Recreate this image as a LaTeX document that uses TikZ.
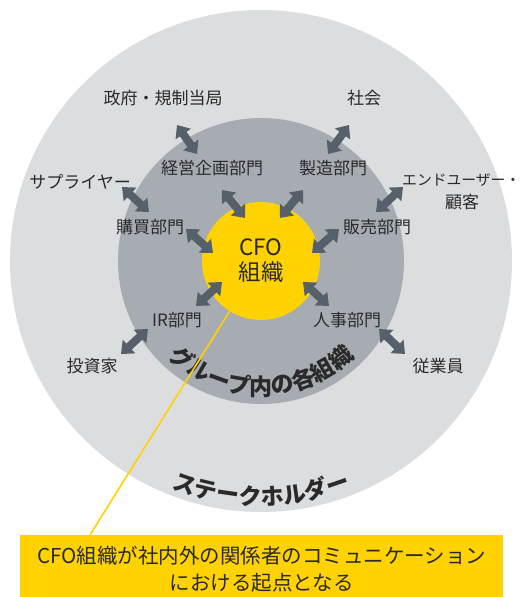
\documentclass[tikz,border=0pt]{standalone}
\usepackage{fontspec}
\setmainfont{Noto Sans CJK JP}
\usetikzlibrary{arrows.meta,decorations.text}
\definecolor{outerg}{HTML}{DCDDDF}
\definecolor{innerg}{HTML}{A7ACB2}
\definecolor{cfoy}{HTML}{FFD200}
\definecolor{arr}{HTML}{56606B}
\definecolor{txt}{HTML}{2A2A2A}
\begin{document}
\begin{tikzpicture}[x=1pt,y=-1pt,
  lbl/.style={text=txt,font=\fontsize{17}{21}\selectfont,inner sep=0pt},
  dbl/.style={draw=arr,line width=8pt,{Triangle[width=18pt,length=11pt]}-{Triangle[width=18pt,length=11pt]}},
  ring/.style={circle,inner sep=0pt,draw=none}
]
\useasboundingbox (0,0) rectangle (521,597);
% circles
\node[ring,fill=outerg,minimum size=502pt] (stake) at (261,261) {};
\node[ring,fill=innerg,minimum size=286pt] (group) at (261,261) {};
\node[ring,fill=cfoy,minimum size=118pt,text=txt,align=center,font=\fontsize{22.5}{25}\selectfont] (cfo) at (261,261) {CFO\\組織};

% labels
\node[lbl] (gov) at (163,98) {政府・規制当局};
\node[lbl] (soc) at (364,98) {社会};
\node[lbl] (plan) at (212,168) {経営企画部門};
\node[lbl] (mfg) at (333,168) {製造部門};
\node[lbl] (sup) at (80,182) {サプライヤー};
\node[lbl,anchor=west,font=\fontsize{14.8}{20}\selectfont] (eu) at (402,180) {エンドユーザー・};
\node[lbl] (cust) at (462,202) {顧客};
\node[lbl] (buy) at (150,227) {購買部門};
\node[lbl] (sales) at (377,227) {販売部門};
\node[lbl] (ir) at (177,320) {IR部門};
\node[lbl] (hr) at (347,320) {人事部門};
\node[lbl] (inv) at (92,366) {投資家};
\node[lbl] (emp) at (438,366) {従業員};

% arrow end points
\coordinate (a1s) at (177,125); \coordinate (a1e) at (197,154);
\coordinate (a2s) at (349,125); \coordinate (a2e) at (328,154);
\coordinate (a3s) at (222,190); \coordinate (a3e) at (245,218);
\coordinate (a4s) at (303,190); \coordinate (a4e) at (280,218);
\coordinate (a5s) at (122,187); \coordinate (a5e) at (149,212);
\coordinate (a6s) at (403,187); \coordinate (a6e) at (376,212);
\coordinate (a7s) at (186,229); \coordinate (a7e) at (213,253);
\coordinate (a8s) at (339,229); \coordinate (a8e) at (312,253);
\coordinate (a9s) at (196,306); \coordinate (a9e) at (222,282);
\coordinate (a10s) at (303,282); \coordinate (a10e) at (329,306);
\coordinate (a11s) at (148,329); \coordinate (a11e) at (121,354);
\coordinate (a12s) at (379,329); \coordinate (a12e) at (405,354);
\foreach \i in {1,...,12} {\draw[dbl] (a\i s) -- (a\i e);}

% curved titles
\path[decorate,decoration={text along path,text align=center,text color=txt,
  text={|\bfseries\fontsize{23}{23}\selectfont|グループ内の各組織}}]
  (261,261) ++(140:134) arc[start angle=140,end angle=40,radius=134];
\path[decorate,decoration={text along path,text align=center,text color=txt,
  text={|\bfseries\fontsize{23}{23}\selectfont|ステークホルダー}}]
  (261,261) ++(120:244) arc[start angle=120,end angle=60,radius=244];

% callout
\node[fill=cfoy,minimum width=483pt,minimum height=69pt,inner sep=0pt,anchor=north west] (notebox) at (20,535) {};
\node[text=txt,align=center,font=\fontsize{20.5}{27}\selectfont,inner sep=0pt] (note) at (notebox.center) {CFO組織が社内外の関係者のコミュニケーション\\における起点となる};
\coordinate (lead) at (90,535);
\draw[cfoy,line width=1.6pt] (lead) -- (cfo);
\end{tikzpicture}
\end{document}
